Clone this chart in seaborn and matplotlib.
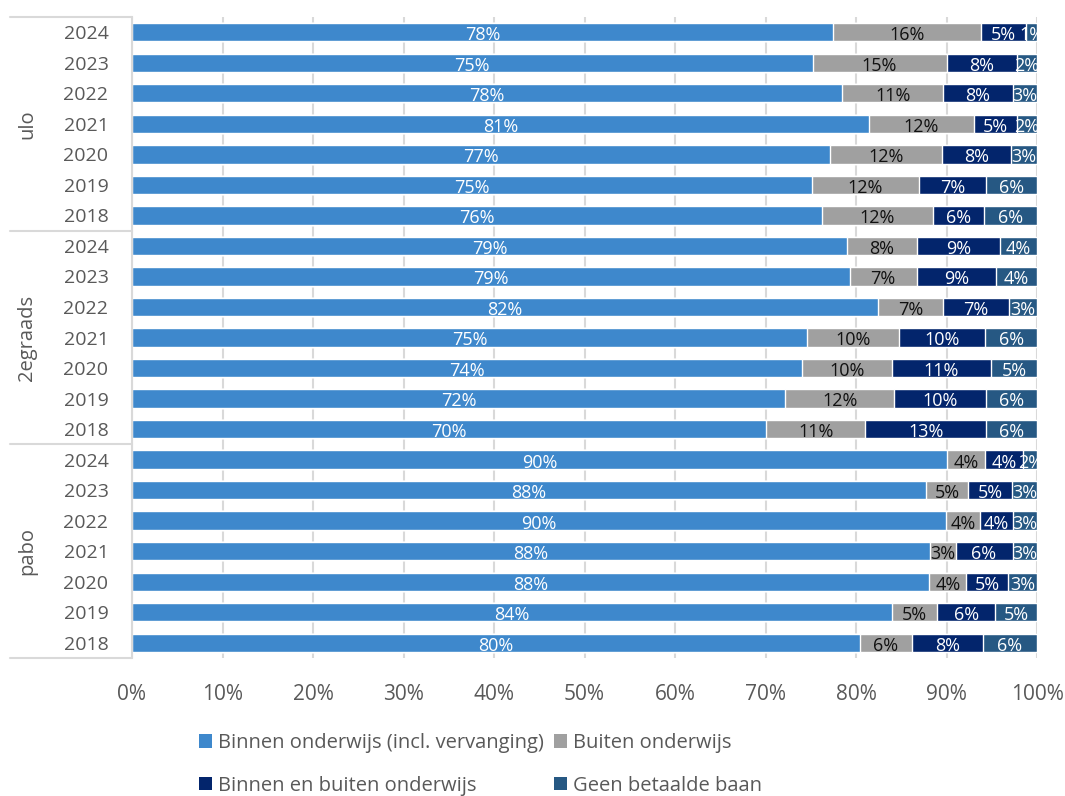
import numpy as np
import pandas as pd
import matplotlib
matplotlib.use("Agg")
import matplotlib.pyplot as plt
import matplotlib.transforms as mtransforms
from matplotlib.patches import Patch
import seaborn as sns

# data (top to bottom as in the chart)
groups = ["ulo", "2egraads", "pabo"]
years = ["2024", "2023", "2022", "2021", "2020", "2019", "2018"]
series = ["Binnen onderwijs (incl. vervanging)", "Buiten onderwijs",
          "Binnen en buiten onderwijs", "Geen betaalde baan"]

binnen = [77.5, 75.2, 78.5, 81.4, 77.1, 75.1, 76.2,
          79.0, 79.3, 82.4, 74.6, 74.0, 72.2, 70.1,
          90.1, 87.7, 89.9, 88.2, 88.1, 84.0, 80.4]
buiten = [16.3, 14.8, 11.1, 11.6, 12.4, 11.9, 12.3,
          7.7, 7.4, 7.2, 10.1, 10.0, 12.0, 10.9,
          4.2, 4.7, 3.8, 2.8, 4.1, 5.0, 5.8]
beide = [5.0, 7.8, 7.7, 4.8, 7.6, 7.4, 5.6,
         9.2, 8.8, 7.3, 9.6, 10.9, 10.2, 13.4,
         4.2, 4.8, 3.7, 6.3, 4.6, 6.4, 7.8]
geen = [1.2, 2.2, 2.7, 2.2, 2.9, 5.6, 5.9,
        4.1, 4.5, 3.1, 5.7, 5.1, 5.6, 5.6,
        1.5, 2.8, 2.6, 2.7, 3.2, 4.6, 6.0]

colors = ["#3E88CC", "#A0A0A0", "#03256C", "#265883"]
text_colors = ["white", "#111111", "white", "white"]

rows = [f"{g} {y}" for g in groups for y in years]
df = pd.DataFrame({"row": rows, "binnen": binnen, "buiten": buiten,
                   "beide": beide, "geen": geen})
cols = ["binnen", "buiten", "beide", "geen"]
cum = df[cols].cumsum(axis=1)

sns.set_style("white")
plt.rcParams["font.family"] = ["Open Sans", "DejaVu Sans"]

fig = plt.figure(figsize=(10.65, 7.96), dpi=100)
ax = fig.add_axes([132 / 1065, 1 - 658 / 796, 905 / 1065, 641 / 796])

# stacked bars by overlapping cumulative totals
for i in range(len(cols) - 1, -1, -1):
    sns.barplot(x=cum[cols[i]], y=df["row"], order=rows, orient="h",
                color=colors[i], width=0.6, saturation=1, ax=ax, zorder=2)

# segment labels
for i, c in enumerate(cols):
    for j in range(len(df)):
        v = df[c].iloc[j]
        xc = cum[c].iloc[j] - v / 2
        ax.text(xc, j + 0.03, f"{v:.0f}%", ha="center", va="center_baseline",
                fontsize=13, color=text_colors[i], zorder=3)

ax.set_xlim(0, 100)
ax.set_ylim(len(rows) - 0.5, -0.5)
ax.set_xticks(np.arange(0, 101, 10))
ax.set_xticklabels([f"{t}%" for t in range(0, 101, 10)])
ax.set_yticks(range(len(rows)))
ax.set_yticklabels(years * len(groups))
ax.set_xlabel("")
ax.set_ylabel("")
ax.grid(axis="x", color="#D9D9D9", lw=1.5, zorder=0)
ax.set_axisbelow(True)
for s in ["top", "right", "bottom"]:
    ax.spines[s].set_visible(False)
ax.spines["left"].set_color("#D9D9D9")
ax.spines["left"].set_linewidth(1.5)
ax.tick_params(axis="y", length=0, pad=17, labelsize=14, labelcolor="#595959")
ax.tick_params(axis="x", length=0, pad=19, labelsize=15, labelcolor="#595959")

# group labels and separators
trans = mtransforms.blended_transform_factory(ax.transAxes, ax.transData)
x0 = -(132 - 10) / 905
for k in range(len(groups) + 1):
    yy = k * len(years) - 0.5
    ax.plot([x0, 0], [yy, yy], color="#D9D9D9", lw=1.5, transform=trans,
            clip_on=False)
for k, g in enumerate(groups):
    ax.text(-(132 - 27) / 905, k * len(years) + 3, g, rotation=90,
            ha="center", va="center", fontsize=14.5, color="#595959",
            transform=trans)

# legend filled row by row
handles = [Patch(facecolor=colors[i], edgecolor="none") for i in range(4)]
order = [0, 2, 1, 3]
fig.legend([handles[i] for i in order], [series[i] for i in order], ncol=2,
           loc="upper left", bbox_to_anchor=(199 / 1065, 1 - 733 / 796),
           frameon=False, fontsize=14.5, labelcolor="#595959",
           handlelength=0.65, handleheight=0.65, handletextpad=0.3,
           columnspacing=0.5, labelspacing=1.12, borderpad=0,
           borderaxespad=0)

fig.savefig("out.png", dpi=100)
